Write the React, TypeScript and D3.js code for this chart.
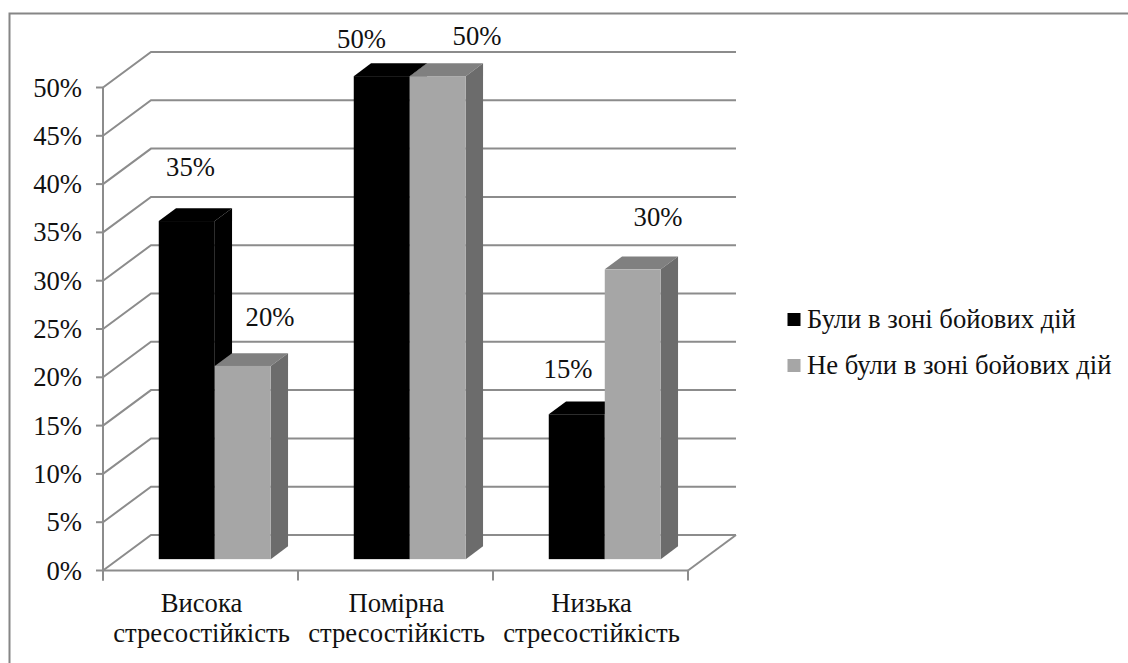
import React from "react";
import * as d3 from "d3";

const categories = ["Висока|стресостійкість", "Помірна|стресостійкість", "Низька|стресостійкість"];
const seriesNames = ["Були в зоні бойових дій", "Не були в зоні бойових дій"];
const combat = [35, 50, 15];
const noCombat = [20, 50, 30];
const ticks = [0, 5, 10, 15, 20, 25, 30, 35, 40, 45, 50];

// Hand-placed data labels: shift from the category start and from the value height.
const combatLabelShift = [[87.5, -56], [63.5, -40], [75, -47.5]];
const noCombatLabelShift = [[167, -51], [179, -43], [165, -54.5]];

const W = 1128;
const H = 663;
const FONT = "'Liberation Serif', 'Times New Roman', serif";
const FS = 26.67;
const GRID = "#8c8c8c";

// Oblique projection: the wall sits behind the front plane by (DX, -DY).
const DX = 48;
const DY = 35.5;
const y = d3.scaleLinear().domain([0, 50]).range([570.5, 87.5]);
const cat = d3.scaleLinear().domain([0, 3]).range([103, 688]);
const inner = d3.scaleBand<number>().domain([0, 1]).paddingInner(0).paddingOuter(0);

const NEAR = 0.32;
const FAR = 0.68;
const px = (x: number, depth: number) => x + DX * depth;
const py = (v: number, depth: number) => y(v) - DY * depth;
const poly = (pts: [number, number][]) => pts.map((p) => p.join(",")).join(" ");

function Bar({ i, s, v, front, top, side }: { i: number; s: number; v: number; front: string; top: string; side: string }) {
  const b = inner.range([cat(i) + 40.4, cat(i) + 152.4]);
  const x0 = b(s) as number;
  const x1 = x0 + b.bandwidth();
  return (
    <g>
      <polygon
        points={poly([
          [px(x0, NEAR), py(v, NEAR)],
          [px(x0, FAR), py(v, FAR)],
          [px(x1, FAR), py(v, FAR)],
          [px(x1, NEAR), py(v, NEAR)],
        ])}
        fill={top}
      />
      <polygon
        points={poly([
          [px(x1, NEAR), py(v, NEAR)],
          [px(x1, FAR), py(v, FAR)],
          [px(x1, FAR), py(0, FAR)],
          [px(x1, NEAR), py(0, NEAR)],
        ])}
        fill={side}
      />
      <rect x={px(x0, NEAR)} y={py(v, NEAR)} width={x1 - x0} height={py(0, NEAR) - py(v, NEAR)} fill={front} />
    </g>
  );
}

export default function App() {
  return (
    <svg
      width={W}
      height={H}
      viewBox={`0 0 ${W} ${H}`}
      style={{ position: "absolute", left: 0, top: 0, background: "#fff" }}
      fontFamily={FONT}
      fontSize={FS}
      fill="#111"
    >
      <path d={`M9.5,${H} V13.5 H${W}`} fill="none" stroke="#868686" strokeWidth={2} />

      {/* walls and floor */}
      {ticks.map((t) => (
        <path
          key={t}
          d={`M${px(cat(0), 0)},${py(t, 0)} L${px(cat(0), 1)},${py(t, 1)} H${px(cat(3), 1)}`}
          fill="none"
          stroke={GRID}
          strokeWidth={2}
        />
      ))}
      <path d={`M${px(cat(3), 0)},${py(0, 0)} L${px(cat(3), 1)},${py(0, 1)}`} fill="none" stroke={GRID} strokeWidth={2} />

      {/* axes */}
      <line x1={cat(0)} x2={cat(0)} y1={y(50)} y2={y(0) + 10} stroke={GRID} strokeWidth={2} />
      <line x1={cat(0)} x2={cat(3)} y1={y(0)} y2={y(0)} stroke={GRID} strokeWidth={2} />
      {ticks.map((t) => (
        <line key={t} x1={cat(0) - 7} x2={cat(0)} y1={y(t)} y2={y(t)} stroke={GRID} strokeWidth={2} />
      ))}
      {d3.range(4).map((i) => (
        <line key={i} x1={cat(i)} x2={cat(i)} y1={y(0)} y2={y(0) + 10} stroke={GRID} strokeWidth={2} />
      ))}

      {/* the lighter bar goes last so it covers the black bar's side */}
      {categories.map((_, i) => (
        <g key={i}>
          <Bar i={i} s={0} v={combat[i]} front="#000" top="#000" side="#000" />
          <Bar i={i} s={1} v={noCombat[i]} front="#a6a6a6" top="#808080" side="#6c6c6c" />
        </g>
      ))}

      {/* tick labels */}
      {ticks.map((t) => (
        <text key={t} x={82} y={y(t) + 9} textAnchor="end">
          {t}%
        </text>
      ))}
      {categories.map((c, i) => {
        const mid = (cat(i) + cat(i + 1)) / 2 + 1;
        return c.split("|").map((line, k) => (
          <text key={k} x={mid} y={611.5 + k * 30} textAnchor="middle">
            {line}
          </text>
        ));
      })}

      {/* value labels */}
      {combat.map((v, i) => (
        <text key={i} x={cat(i) + combatLabelShift[i][0]} y={y(v) + combatLabelShift[i][1]} textAnchor="middle">
          {v}%
        </text>
      ))}
      {noCombat.map((v, i) => (
        <text key={i} x={cat(i) + noCombatLabelShift[i][0]} y={y(v) + noCombatLabelShift[i][1]} textAnchor="middle">
          {v}%
        </text>
      ))}

      {/* legend */}
      {seriesNames.map((n, k) => (
        <g key={n}>
          <rect x={787.5} y={313 + k * 46} width={13} height={13} fill={k === 0 ? "#000" : "#a6a6a6"} />
          <text x={807} y={328 + k * 46}>
            {n}
          </text>
        </g>
      ))}
    </svg>
  );
}
